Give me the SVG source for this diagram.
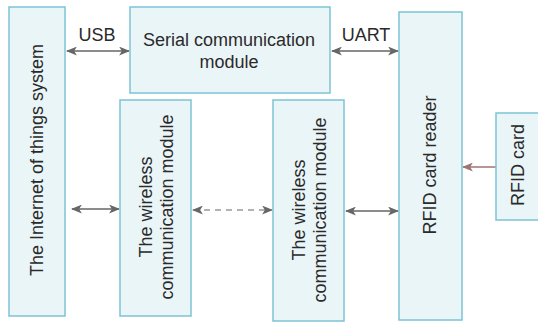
<svg xmlns="http://www.w3.org/2000/svg" width="538" height="322" viewBox="0 0 538 322">
<defs>
<style>
.box{fill:#eaf5f8;stroke:#7cc3d5;stroke-width:1.5}
.t{font-family:"Liberation Sans",Arial,sans-serif;font-size:18px;fill:#2a2a2a}
.c{stroke:#666;stroke-width:1.6;fill:none}
.d{stroke:#999;stroke-width:1.6;fill:none;stroke-dasharray:6,5}
.b{stroke:#a07373;stroke-width:1.6;fill:none}
</style>
<marker id="ah" viewBox="0 0 10 8" refX="9" refY="4" markerWidth="11" markerHeight="9" markerUnits="userSpaceOnUse" orient="auto-start-reverse">
<path d="M0,0 L10,4 L0,8 L2.5,4 z" fill="#666"/>
</marker>
<marker id="ahb" viewBox="0 0 10 8" refX="9" refY="4" markerWidth="11" markerHeight="9" markerUnits="userSpaceOnUse" orient="auto">
<path d="M0,0 L10,4 L0,8 L2.5,4 z" fill="#a07373"/>
</marker>
</defs>
<rect width="538" height="322" fill="#fff"/>
<g id="connectors">
<line class="c" x1="67" y1="51" x2="129" y2="51" marker-start="url(#ah)" marker-end="url(#ah)"/>
<text class="t" x="97" y="41" text-anchor="middle">USB</text>
<line class="c" x1="332" y1="51" x2="398" y2="51" marker-start="url(#ah)" marker-end="url(#ah)"/>
<text class="t" x="366" y="41" text-anchor="middle">UART</text>
<line class="c" x1="72" y1="209" x2="119" y2="209" marker-start="url(#ah)" marker-end="url(#ah)"/>
<line class="d" x1="193" y1="210" x2="272" y2="210" marker-start="url(#ah)" marker-end="url(#ah)"/>
<line class="c" x1="346" y1="211" x2="398" y2="211" marker-start="url(#ah)" marker-end="url(#ah)"/>
<line class="b" x1="496" y1="167" x2="463" y2="167" marker-end="url(#ahb)"/>
</g>
<g id="iot">
<rect class="box" x="9" y="7" width="56" height="309"/>
<text class="t" transform="translate(43,160) rotate(-90)" text-anchor="middle">The Internet of things system</text>
</g>
<g id="serial">
<rect class="box" x="130" y="7" width="200" height="86"/>
<text class="t" x="229" y="46" text-anchor="middle">Serial communication</text>
<text class="t" x="229" y="68" text-anchor="middle">module</text>
</g>
<g id="wireless1">
<rect class="box" x="120" y="100" width="71" height="216"/>
<text class="t" transform="translate(152,207) rotate(-90)" text-anchor="middle">The wireless</text>
<text class="t" transform="translate(173,207) rotate(-90)" text-anchor="middle">communication module</text>
</g>
<g id="wireless2">
<rect class="box" x="273" y="100" width="71" height="221"/>
<text class="t" transform="translate(305,210) rotate(-90)" text-anchor="middle">The wireless</text>
<text class="t" transform="translate(326,210) rotate(-90)" text-anchor="middle">communication module</text>
</g>
<g id="reader">
<rect class="box" x="399" y="12" width="63" height="308"/>
<text class="t" transform="translate(436,165) rotate(-90)" text-anchor="middle">RFID card reader</text>
</g>
<g id="card">
<rect class="box" x="496" y="113" width="50" height="107"/>
<text class="t" transform="translate(524,165) rotate(-90)" text-anchor="middle">RFID card</text>
</g>
</svg>
